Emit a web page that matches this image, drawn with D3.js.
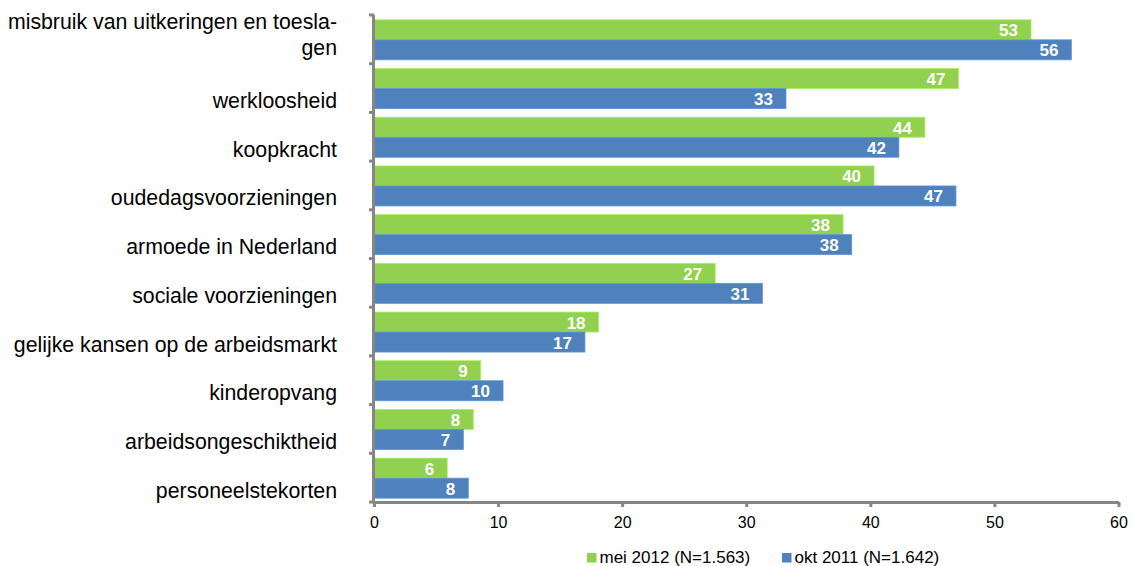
<!DOCTYPE html>
<html>
<head>
<meta charset="utf-8">
<script src="https://cdn.jsdelivr.net/npm/d3@7"></script>
<style>
  html, body { margin: 0; padding: 0; background: #fff; }
  svg { display: block; font-family: "Liberation Sans", Arial, Helvetica, sans-serif; }
</style>
</head>
<body>
<svg id="chart" width="1133" height="566"></svg>
<script>
const categories = [
  ["misbruik van uitkeringen en toesla-", "gen"],
  ["werkloosheid"],
  ["koopkracht"],
  ["oudedagsvoorzieningen"],
  ["armoede in Nederland"],
  ["sociale voorzieningen"],
  ["gelijke kansen op de arbeidsmarkt"],
  ["kinderopvang"],
  ["arbeidsongeschiktheid"],
  ["personeelstekorten"]
];
const mei2012 = [53, 47, 44, 40, 38, 27, 18, 9, 8, 6];
const okt2011 = [56, 33, 42, 47, 38, 31, 17, 10, 7, 8];
const mei2012Bars = [52.95, 47.1, 44.4, 40.3, 37.8, 27.5, 18.1, 8.6, 8.0, 5.9];
const okt2011Bars = [56.2, 33.2, 42.3, 46.9, 38.5, 31.3, 17.0, 10.4, 7.2, 7.6];
const seriesNames = ["mei 2012 (N=1.563)", "okt 2011 (N=1.642)"];
const xTicks = [0, 10, 20, 30, 40, 50, 60];

(function () {
const colors = ["#92D050", "#4F81BD"];
const svg = d3.select("#chart");

const pL = 374, pR = 1118.5, pT = 15, pB = 502;
const x = d3.scaleLinear().domain([0, 60]).range([pL, pR]);
const band = d3.scaleBand().domain(d3.range(categories.length)).range([pT, pB]).paddingInner(0).paddingOuter(0);
const bw = band.bandwidth();
const barH = 20;

const series = [
  { name: seriesNames[0], labels: mei2012, bars: mei2012Bars, color: colors[0], off: -barH },
  { name: seriesNames[1], labels: okt2011, bars: okt2011Bars, color: colors[1], off: 0 }
];

// bars
series.forEach(s => {
  const g = svg.append("g");
  g.selectAll("rect").data(s.bars).join("rect")
    .attr("x", x(0))
    .attr("y", (d, i) => band(i) + bw / 2 + s.off + 0.5)
    .attr("width", d => x(d) - x(0))
    .attr("height", barH)
    .attr("fill", s.color)
    .attr("stroke", d3.color(s.color).brighter(0.4))
    .attr("stroke-width", 0.8);
  g.selectAll("text").data(s.labels).join("text")
    .attr("x", (d, i) => x(s.bars[i]) - 13)
    .attr("y", (d, i) => band(i) + bw / 2 + s.off + 0.5 + barH / 2 + 6.5)
    .attr("text-anchor", "end")
    .attr("fill", "#fff")
    .attr("font-weight", "bold")
    .attr("font-size", 17)
    .text(d => d);
});

// y axis
const axisColor = "#868686";
svg.append("line").attr("x1", pL - 0.5).attr("x2", pL - 0.5).attr("y1", pT).attr("y2", pB + 1.5)
  .attr("stroke", axisColor).attr("stroke-width", 3);
svg.selectAll(".ytick").data(d3.range(categories.length + 1)).join("line")
  .attr("x1", pL - 5).attr("x2", pL)
  .attr("y1", i => i < categories.length ? band(i) : pB)
  .attr("y2", i => i < categories.length ? band(i) : pB)
  .attr("stroke", axisColor).attr("stroke-width", 3);

// x axis
const xAxis = d3.axisBottom(x).tickValues(xTicks).tickSize(5).tickSizeOuter(0).tickPadding(9.5);
const xg = svg.append("g").attr("transform", `translate(0,${pB})`).call(xAxis);
xg.select(".domain").attr("stroke", axisColor).attr("stroke-width", 3);
xg.selectAll(".tick line").attr("stroke", axisColor).attr("stroke-width", 3);
xg.selectAll(".tick text").attr("font-size", 16).attr("fill", "#000")
  .attr("font-family", "'Liberation Sans', Arial, sans-serif");

// category labels
const catG = svg.append("g");
categories.forEach((lines, i) => {
  const c = band(i) + bw / 2;
  const t = catG.append("text").attr("text-anchor", "end").attr("font-size", 21.3).attr("fill", "#000");
  if (lines.length === 2) {
    t.append("tspan").attr("x", 337).attr("y", c - 10).text(lines[0]);
    t.append("tspan").attr("x", 337).attr("y", c + 16).text(lines[1]);
  } else {
    t.append("tspan").attr("x", 337).attr("y", c + 20).text(lines[0]);
  }
});

// legend
const legendX = [587, 782];
series.forEach((s, i) => {
  svg.append("rect").attr("x", legendX[i]).attr("y", 553).attr("width", 9.5).attr("height", 9.5).attr("fill", s.color);
  svg.append("text").attr("x", legendX[i] + 12.5).attr("y", 562.5).attr("font-size", 17).attr("fill", "#000").text(s.name);
});
})();
</script>
</body>
</html>
